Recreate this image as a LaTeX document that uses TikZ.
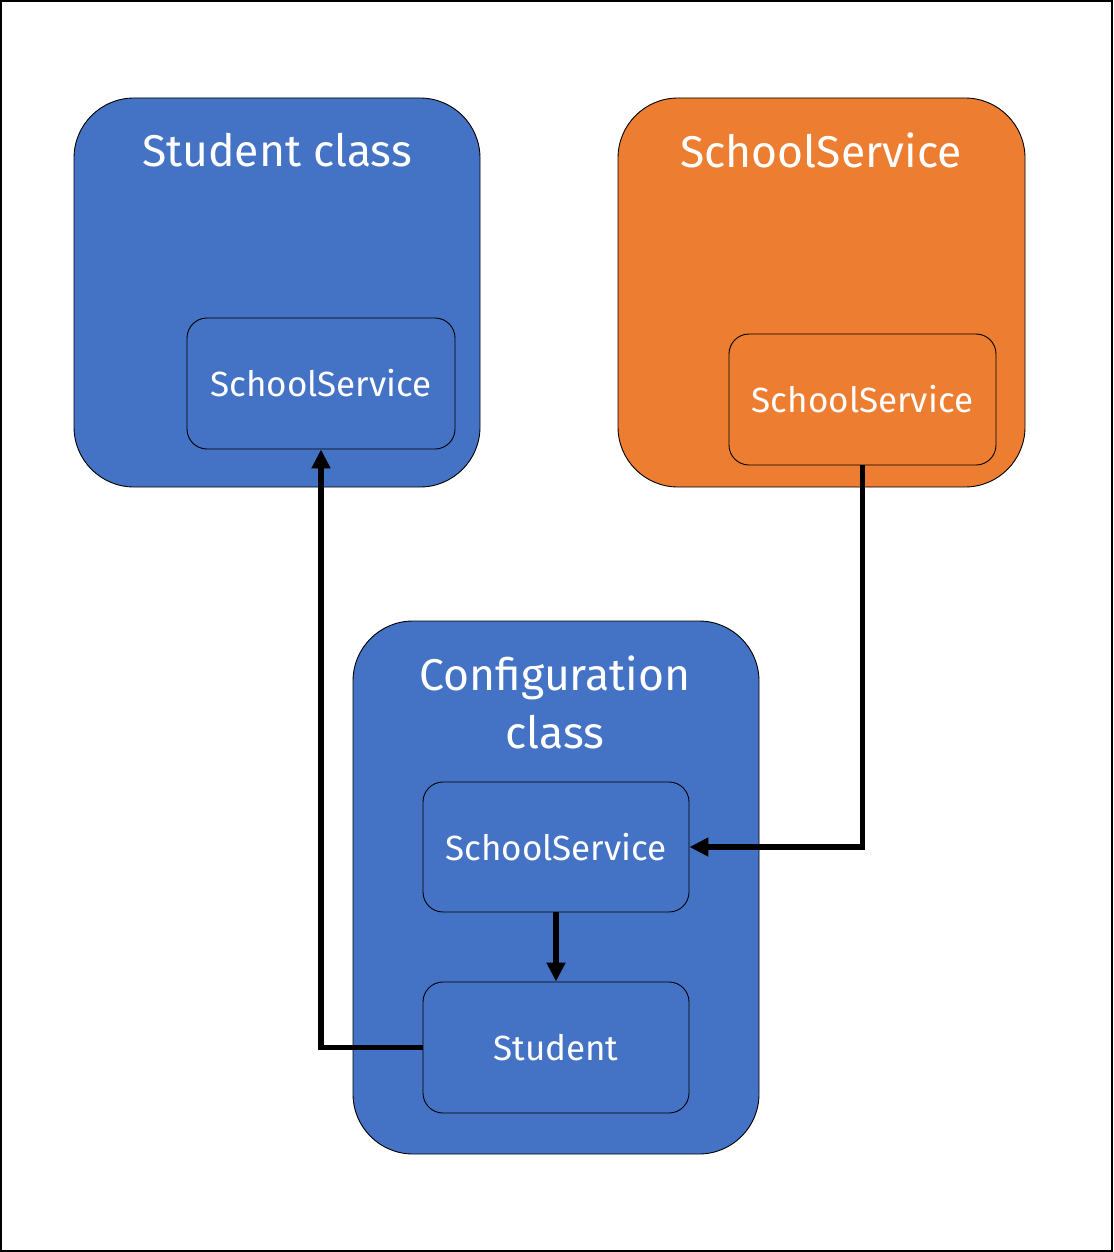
\documentclass[tikz,border=0pt]{standalone}
\usepackage{fontspec}
\setmainfont{Fira Sans}
\usetikzlibrary{arrows.meta}
\definecolor{cblue}{HTML}{4472C4}
\definecolor{corange}{HTML}{ED7D31}
\begin{document}
\begin{tikzpicture}[x=1pt,y=-1pt,
  outerbox/.style={draw=black, line width=0.9pt, rounded corners=60pt, inner sep=0pt},
  innerbox/.style={draw=black, line width=0.9pt, rounded corners=20pt, inner sep=0pt, text=white, font=\fontsize{35}{42}\selectfont},
  titletext/.style={text=white, align=center, font=\fontsize{44.5}{58}\selectfont},
  arr/.style={line width=5.5pt, -{Triangle[length=19pt,width=18pt]}}]
\useasboundingbox (0,0) rectangle (1113,1252);
\draw[line width=2pt] (1,1) rectangle (1112,1251);
% big boxes
\node[outerbox, fill=cblue, minimum width=406pt, minimum height=389pt] (stc) at (277,292.5) {};
\node[outerbox, fill=corange, minimum width=407pt, minimum height=389pt] (ssc) at (821.5,292.5) {};
\node[outerbox, fill=cblue, minimum width=406pt, minimum height=533pt] (cfg) at (556,887.5) {};
% titles
\node[titletext] (t1) at (277,150) {Student class};
\node[titletext] (t2) at (821,150) {SchoolService};
\node[titletext] (t3) at (555,702) {Configuration\\class};
% inner boxes
\node[innerbox, fill=cblue, minimum width=268pt, minimum height=131pt] (ss1) at (321,383.5) {SchoolService};
\node[innerbox, fill=corange, minimum width=267pt, minimum height=131pt] (ss2) at (862.5,399.5) {SchoolService};
\node[innerbox, fill=cblue, minimum width=266pt, minimum height=130pt] (ss3) at (556,847) {SchoolService};
\node[innerbox, fill=cblue, minimum width=266pt, minimum height=131pt] (stu) at (556,1047.5) {Student};
% connectors
\draw[arr] (stu.west) -| (ss1.south);
\draw[arr] (ss2.south) |- (ss3.east);
\draw[arr] (ss3.south) -- (stu.north);
\end{tikzpicture}
\end{document}
